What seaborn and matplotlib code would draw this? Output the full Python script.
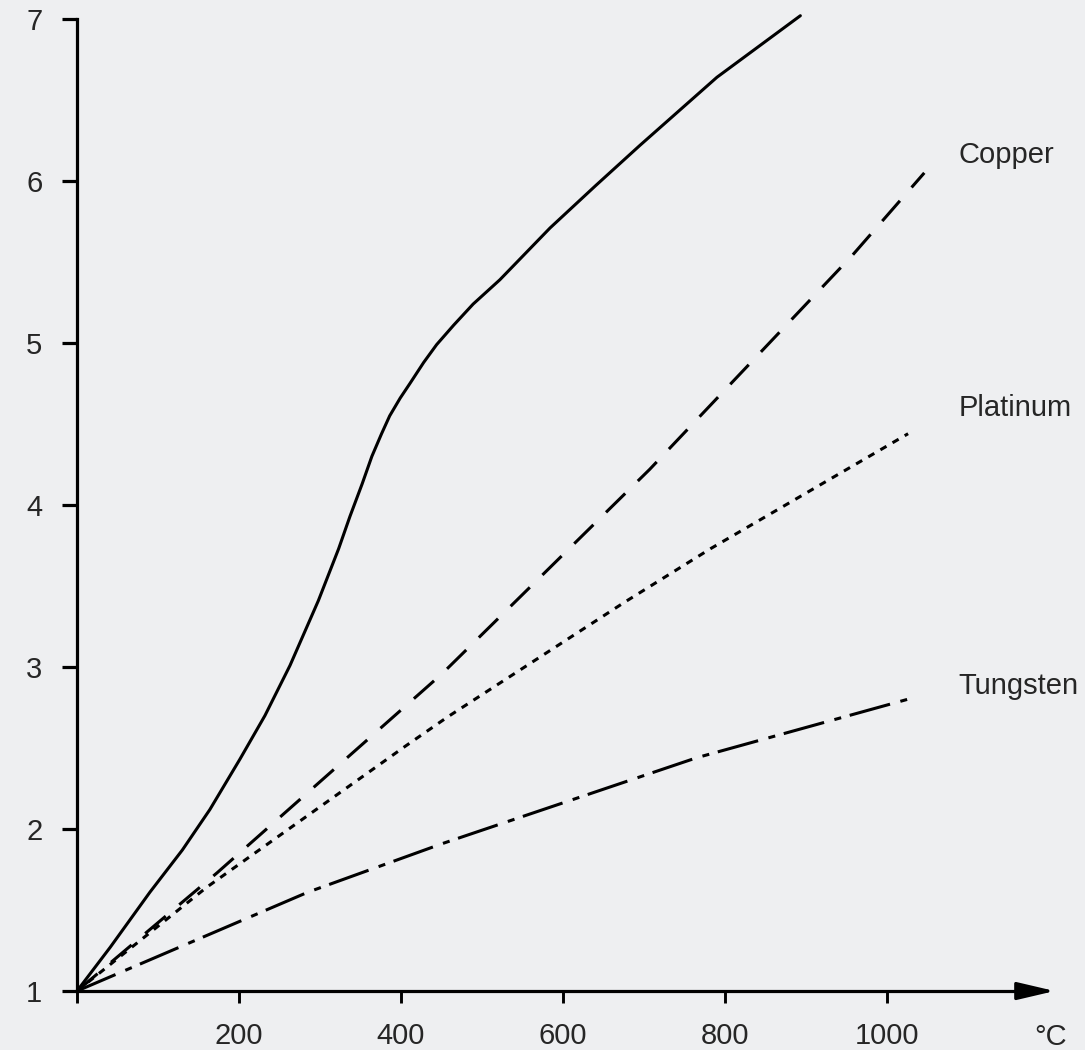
import pandas as pd
import matplotlib
matplotlib.use("Agg")
import matplotlib.pyplot as plt
import seaborn as sns

# resistance ratio R/R0 against temperature (deg C)
solid_t = [0, 41, 90, 130, 164, 201, 232, 263, 298, 323, 337, 352, 364, 376,
           386, 399, 411, 428, 444, 465, 489, 522, 553, 584, 640, 695, 790, 893]
solid_r = [1.0, 1.27, 1.61, 1.87, 2.12, 2.43, 2.70, 3.01, 3.41, 3.73, 3.93,
           4.13, 4.30, 4.44, 4.55, 4.66, 4.75, 4.88, 4.99, 5.11, 5.24, 5.39,
           5.55, 5.71, 5.97, 6.22, 6.64, 7.02]

copper_t = [0, 173, 451, 707, 957, 1046]
copper_r = [1.0, 1.73, 2.96, 4.22, 5.54, 6.05]

platinum_t = [0, 160, 405, 457, 676, 782, 1026]
platinum_r = [1.0, 1.64, 2.51, 2.69, 3.40, 3.73, 4.44]

tungsten_t = [0, 285, 451, 765, 1025]
tungsten_r = [1.0, 1.61, 1.91, 2.44, 2.80]

names = ["Copper", "Platinum", "Tungsten"]
name_y = [6.16, 4.60, 2.88]

x_ticks = [0, 200, 400, 600, 800, 1000]
x_labels = ["", "200", "400", "600", "800", "1000"]
y_ticks = [1, 2, 3, 4, 5, 6, 7]

bg = "#eeeff1"
ink = "#262626"

sns.set_style("ticks")
plt.rcParams["font.family"] = ["Liberation Sans", "DejaVu Sans"]

fig = plt.figure(figsize=(10.85, 10.5), dpi=100)
fig.patch.set_facecolor(bg)
ax = fig.add_axes([0, 0, 1, 1])
ax.set_facecolor(bg)

lw = 2.2
sns.lineplot(x=solid_t, y=solid_r, ax=ax, color="black", lw=lw, sort=False)
sns.lineplot(x=copper_t, y=copper_r, ax=ax, color="black", lw=lw, sort=False,
             linestyle=(0, (8.8, 5.8)))
sns.lineplot(x=platinum_t, y=platinum_r, ax=ax, color="black", lw=lw, sort=False,
             linestyle=(0, (2.3, 2.3)))
sns.lineplot(x=tungsten_t, y=tungsten_r, ax=ax, color="black", lw=lw, sort=False,
             linestyle=(0, (13.7, 3.5, 2.3, 2.9)))

for name, yy in zip(names, name_y):
    ax.text(1088, yy, name, fontsize=21, color=ink, ha="left", va="center")

ax.set_xlim(-95.06, 1244.4)
ax.set_ylim(0.636, 7.117)

# axes cross at (0, 1)
ax.spines["left"].set_position(("data", 0))
ax.spines["bottom"].set_position(("data", 1))
ax.spines["top"].set_visible(False)
ax.spines["right"].set_visible(False)
ax.spines["left"].set_bounds(1, 7)
ax.spines["bottom"].set_bounds(0, 1180)
for s in ["left", "bottom"]:
    ax.spines[s].set_linewidth(2.3)
    ax.spines[s].set_color("black")

ax.annotate("", xy=(1207, 1), xytext=(1160, 1),
            arrowprops=dict(arrowstyle="-|>,head_length=1.15,head_width=0.27",
                            mutation_scale=20, color="black", lw=2.3,
                            shrinkA=0, shrinkB=0))

ax.set_xticks(x_ticks)
ax.set_xticklabels(x_labels)
ax.set_yticks(y_ticks)
ax.tick_params(axis="y", direction="out", length=11, width=2.3, pad=14,
               labelsize=21, labelcolor=ink, color="black")
ax.tick_params(axis="x", direction="out", length=8.5, width=2.1, pad=14,
               labelsize=21, labelcolor=ink, color="black")
ax.set_xlabel("")
ax.set_ylabel("")

ax.text(1202, 0.715, "°C", fontsize=21, color=ink, ha="center", va="center")

fig.savefig("out.png", dpi=100, facecolor=bg)
